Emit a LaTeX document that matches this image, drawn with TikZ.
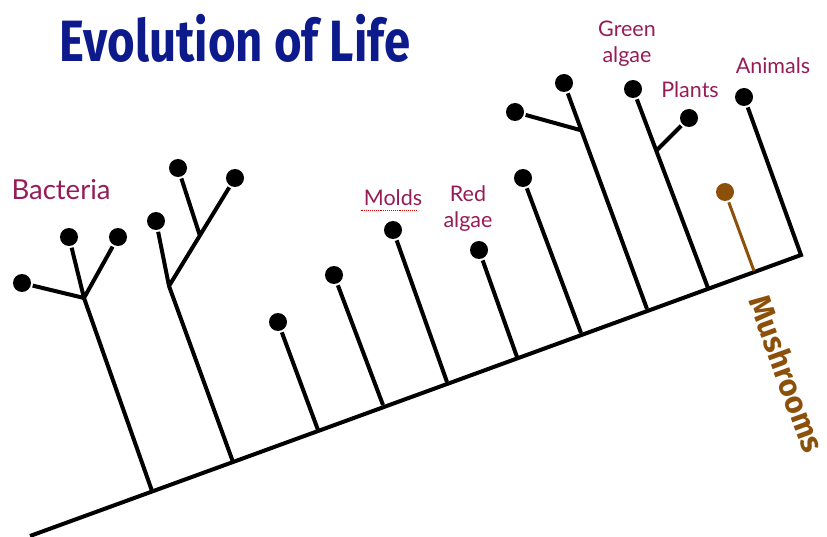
\documentclass[tikz,border=0pt]{standalone}
\usepackage{fontspec}
\setmainfont{Lato}
\newfontfamily\headfont{Fira Sans}
\definecolor{titleblue}{RGB}{12,26,140}
\definecolor{labelred}{RGB}{150,28,88}
\definecolor{mushbrown}{RGB}{140,80,10}

\begin{document}
\begin{tikzpicture}[x=1pt, y=-1pt, line width=4pt,
	leaf/.style={circle, fill, inner sep=0pt, minimum size=18pt},
	lbl/.style={text=labelred, align=center, font=\fontsize{21.5}{26}\selectfont}]
	\useasboundingbox (0,0) rectangle (827,537);
	\node[text=titleblue, font=\headfont\bfseries\fontsize{52}{52}\selectfont] (title) at (235,38) {\scalebox{0.91}[1.12]{Evolution of Life}};

	% trunk
	\coordinate (root) at (30,536);
	\coordinate (tip) at (801,255);
	\node[leaf] (animals) at (744,97) {};
	\draw (root) -- (tip) -- (animals);

	% bacteria
	\coordinate (j1) at (152,491); \coordinate (b1) at (84,298);
	\node[leaf] (bacA) at (22,283) {};
	\node[leaf] (bacB) at (69,237) {};
	\node[leaf] (bacC) at (118,237) {};
	\draw (j1) -- (b1) (b1) -- (bacA) (b1) -- (bacB) (b1) -- (bacC);
	\coordinate (j2) at (233,462); \coordinate (b2) at (169,286); \coordinate (b2s) at (200,236);
	\node[leaf] (bacD) at (156,221) {};
	\node[leaf] (bacE) at (178,168) {};
	\node[leaf] (bacF) at (235,178) {};
	\draw (j2) -- (b2) (b2) -- (bacD) (b2) -- (bacF) (b2s) -- (bacE);

	% single stems
	\coordinate (j3) at (318,430); \node[leaf] (s3) at (278,322) {};
	\coordinate (j4) at (383,405); \node[leaf] (s4) at (334,275) {};
	\coordinate (j5) at (447,382); \node[leaf] (molds) at (393,230) {};
	\coordinate (j6) at (517,357); \node[leaf] (redalg) at (479,250) {};
	\coordinate (j7) at (581,333); \node[leaf] (s7) at (523,178) {};
	\draw (j3) -- (s3) (j4) -- (s4) (j5) -- (molds) (j6) -- (redalg) (j7) -- (s7);

	% upper groups
	\coordinate (j8) at (647,309); \coordinate (b8) at (580,130);
	\node[leaf] (s8a) at (515,112) {};
	\node[leaf] (s8b) at (564,83) {};
	\draw (j8) -- (s8b) (b8) -- (s8a);
	\coordinate (j9) at (708,288); \coordinate (b9) at (657,150);
	\node[leaf] (green) at (633,89) {};
	\node[leaf] (plants) at (689,118) {};
	\draw (j9) -- (green) (b9) -- (plants);

	% mushrooms
	\coordinate (j10) at (754,271);
	\node[leaf, mushbrown] (mush) at (725,192) {};
	\draw[mushbrown, line width=3pt] (j10) -- (mush);

	% labels
	\node[lbl, font=\fontsize{27.5}{30}\selectfont] (lbBac) at (61,190) {Bacteria};
	\node[lbl] (lbMolds) at (393,198) {Molds};
	\draw[red!85!black, densely dotted, line width=0.9pt] ([yshift=-1pt]lbMolds.base west) ++(2,4) -- ++(56,0);
	\node[lbl] (lbRed) at (468,209) {Red\\algae};
	\node[lbl] (lbGreen) at (627,44) {Green\\algae};
	\node[lbl] (lbPlants) at (690,90) {Plants};
	\node[lbl] (lbAnimals) at (773,66) {Animals};
	\node[text=mushbrown, rotate=-70, font=\headfont\bfseries\fontsize{31}{31}\selectfont] (lbMush) at (787,374) {Mushrooms};
\end{tikzpicture}
\end{document}
